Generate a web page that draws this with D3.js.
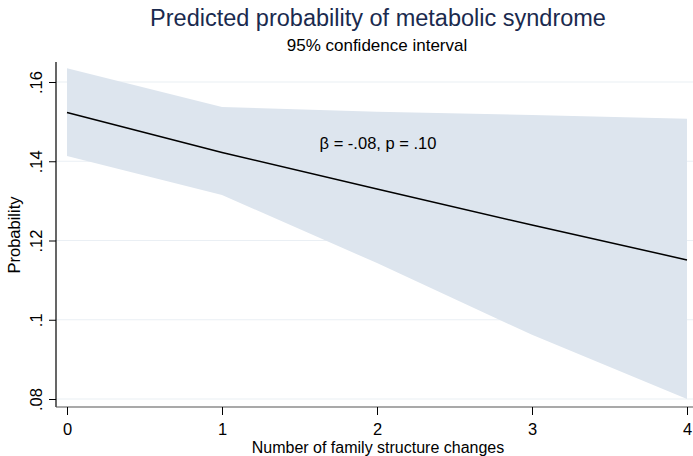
<!DOCTYPE html>
<html><head><meta charset="utf-8">
<script src="https://cdn.jsdelivr.net/npm/d3@7"></script>
<style>body{margin:0;background:#fff}svg{display:block}text{font-family:"Liberation Sans",Arial,sans-serif}</style>
</head><body>
<svg id="c" width="693" height="456"></svg>
<script>
const xValues = [0, 1, 2, 3, 4];
const predicted = [0.1523, 0.1422, 0.1330, 0.1239, 0.1151];
const ciUpper = [0.1635, 0.1537, 0.1525, 0.1517, 0.1507];
const ciLower = [0.1413, 0.1315, 0.1143, 0.0962, 0.0800];
const yTicks = [0.08, 0.10, 0.12, 0.14, 0.16];
const yTickLabels = [".08", ".1", ".12", ".14", ".16"];
const titleText = "Predicted probability of metabolic syndrome";
const subtitleText = "95% confidence interval";
const annotationText = "\u03B2 = -.08, p = .10";

(function () {
const svg = d3.select("#c");
const x = d3.scaleLinear().domain([0, 4]).range([67, 687]);
const y = d3.scaleLinear().domain([0.08, 0.16]).range([399, 82]);
const pLeft = 56, pBottom = 407, pTop = 62, pRight = 693;

svg.append("g").selectAll("line").data(yTicks).join("line")
  .attr("x1", pLeft).attr("x2", pRight)
  .attr("y1", d => y(d)).attr("y2", d => y(d))
  .attr("stroke", "#eaeff4").attr("stroke-width", 1.2);

const data = xValues.map((v, i) => ({x: v, p: predicted[i], lo: ciLower[i], hi: ciUpper[i]}));

svg.append("path").datum(data)
  .attr("d", d3.area().x(d => x(d.x)).y0(d => y(d.lo)).y1(d => y(d.hi)))
  .attr("fill", "#dde5ee");

svg.append("path").datum(data)
  .attr("d", d3.line().x(d => x(d.x)).y(d => y(d.p)))
  .attr("fill", "none").attr("stroke", "#000").attr("stroke-width", 1.5);

const ya = svg.append("g").attr("transform", `translate(${pLeft},0)`)
  .call(d3.axisLeft(y).tickValues(yTicks).tickFormat((d, i) => yTickLabels[i]).tickSize(7).tickPadding(4));
ya.select(".domain").attr("d", `M0,${pTop}V${pBottom}`).attr("stroke", "#000").attr("stroke-width", 1.2);
ya.selectAll(".tick line").attr("stroke", "#000");
ya.selectAll(".tick text")
  .attr("font-size", 16.5).attr("fill", "#000")
  .attr("text-anchor", "middle")
  .attr("transform", "rotate(-90)")
  .attr("x", 0).attr("y", -14).attr("dy", "0");

const xa = svg.append("g").attr("transform", `translate(0,${pBottom})`)
  .call(d3.axisBottom(x).tickValues(xValues).tickFormat(d3.format("d")).tickSize(8).tickPadding(8));
xa.select(".domain").attr("d", `M${pLeft},0H${pRight}`).attr("stroke", "#555").attr("stroke-width", 1.2);
xa.selectAll(".tick line").attr("stroke", "#000");
xa.selectAll(".tick text").attr("font-size", 16.5).attr("fill", "#000");

svg.append("text").attr("x", 378).attr("y", 26).attr("text-anchor", "middle")
  .attr("font-size", 23.5).attr("fill", "#1a2a4e").text(titleText);
svg.append("text").attr("x", 377).attr("y", 51).attr("text-anchor", "middle")
  .attr("font-size", 17).attr("fill", "#000").text(subtitleText);
svg.append("text").attr("transform", "translate(20,235) rotate(-90)").attr("text-anchor", "middle")
  .attr("font-size", 16.5).attr("fill", "#000").text("Probability");
svg.append("text").attr("x", 378).attr("y", 453).attr("text-anchor", "middle")
  .attr("font-size", 16).attr("fill", "#000").text("Number of family structure changes");
svg.append("text").attr("x", 378).attr("y", 149).attr("text-anchor", "middle")
  .attr("font-size", 16.5).attr("fill", "#000").text(annotationText);
})();
</script>
</body></html>
